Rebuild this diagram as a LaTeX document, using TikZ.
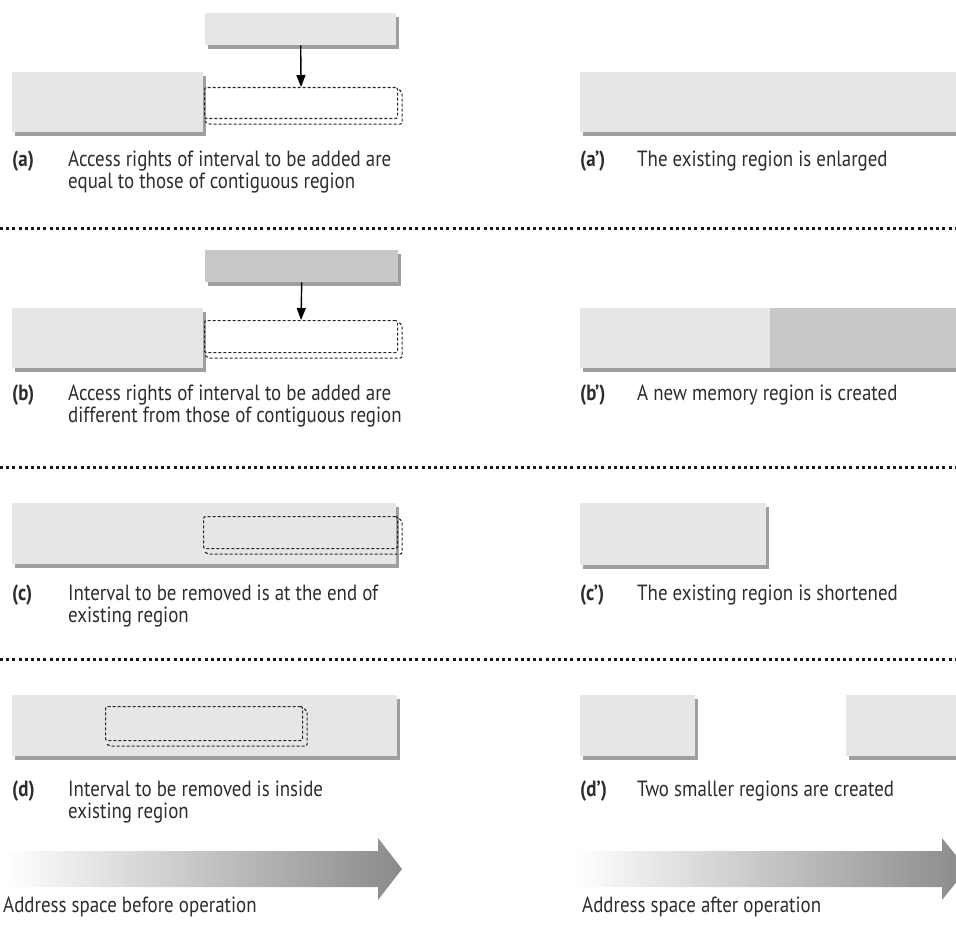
\documentclass[tikz,border=0pt]{standalone}
\usepackage{fontspec}
\setmainfont{PT Sans}[FakeStretch=0.86]
\usepackage{tikz}
\usetikzlibrary{arrows.meta}

\definecolor{regfill}{RGB}{229,230,231}
\definecolor{regdark}{RGB}{199,200,202}
\definecolor{shadowgray}{RGB}{158,159,161}
\definecolor{txtgray}{RGB}{45,45,45}
\definecolor{arrowgray}{RGB}{138,138,138}

\tikzset{
  region/.style={fill=regfill, draw=none, inner sep=0pt, anchor=north west},
  gap/.style={draw=black!85, densely dashed, line width=1.1pt, rounded corners=2pt, inner sep=0pt, anchor=north west},
  gapback/.style={draw=black!85, densely dashed, line width=1.1pt, rounded corners=2pt},
  caption/.style={anchor=base west, inner sep=0pt, text=txtgray, align=left, font=\fontsize{22}{22}\selectfont},
  tag/.style={caption, font=\fontsize{22}{22}\selectfont\bfseries},
  separator/.style={draw=black!90, line width=3pt, dash pattern=on 3pt off 3.2pt},
  drop/.style={-{Triangle[length=12pt,width=9pt]}, line width=1.4pt, black},
}

% region with its shadow: name, x, y, width, height, fill
\newcommand{\regionbox}[6]{%
  \fill[shadowgray] (#2+3,#3+4) rectangle ++(#4,#5);
  \node[region, fill=#6, minimum width=#4pt, minimum height=#5pt] (#1) at (#2,#3) {};
}
% dashed interval: name, x, y, width, height
\newcommand{\gapbox}[5]{%
  \node[gap, minimum width=#4pt, minimum height=#5pt] (#1) at (#2,#3) {};
  \draw[gapback] ([shift={(1,3)}]#1.north east) -- ([shift={(4,4)}]#1.north east) -- ([shift={(4,5)}]#1.south east) -- ([shift={(4,5)}]#1.south west) -- ([shift={(1,2)}]#1.south west);
}

\begin{document}
\begin{tikzpicture}[x=1pt,y=1pt,yscale=-1]
\useasboundingbox (0,0) rectangle (956,936);
\clip (0,0) rectangle (956,936);

%Row (a)
\regionbox{newa}{205}{13}{191}{32}{regfill}
\regionbox{olda}{12}{72}{191}{60}{regfill}
\gapbox{gapa}{204}{87}{193}{31}
\draw[drop] (newa.south) -- (gapa.north);
\regionbox{enla}{580}{72}{390}{60}{regfill}
% Text Node
\node[tag] (taga) at (12,167) {(a)};
\node[caption] (capa) at (68,189) {Access rights of interval to be added are\\equal to those of contiguous region};
\node[tag] (tagaa) at (580,167) {(a')};
\node[caption] (capaa) at (637,167) {The existing region is enlarged};

\draw[separator] (0,229) -- (956,229);

%Row (b)
\regionbox{newb}{205}{250}{193}{32}{regdark}
\regionbox{oldb}{12}{308}{191}{60}{regfill}
\gapbox{gapb}{204}{320}{193}{32}
\draw[drop] (newb.south) -- (gapb.north);
\regionbox{keepb}{580}{308}{190}{60}{regfill}
\regionbox{addb}{770}{308}{200}{60}{regdark}
% Text Node
\node[tag] (tagb) at (12,400) {(b)};
\node[caption] (capb) at (68,422) {Access rights of interval to be added are\\different from those of contiguous region};
\node[tag] (tagbb) at (580,400) {(b')};
\node[caption] (capbb) at (637,400) {A new memory region is created};

\draw[separator] (0,467) -- (956,467);

%Row (c)
\regionbox{oldc}{12}{503}{384}{61}{regfill}
\gapbox{gapc}{203}{516}{194}{32}
\regionbox{shortc}{580}{503}{186}{62}{regfill}
% Text Node
\node[tag] (tagc) at (12,600) {(c)};
\node[caption] (capc) at (68,622) {Interval to be removed is at the end of\\existing region};
\node[tag] (tagcc) at (580,600) {(c')};
\node[caption] (capcc) at (637,600) {The existing region is shortened};

\draw[separator] (0,659) -- (956,659);

%Row (d)
\regionbox{oldd}{12}{695}{385}{61}{regfill}
\gapbox{gapd}{105}{706}{197}{34}
\regionbox{lowd}{580}{695}{115}{61}{regfill}
\regionbox{highd}{846}{695}{120}{61}{regfill}
% Text Node
\node[tag] (tagd) at (12,796) {(d)};
\node[caption] (capd) at (68,818) {Interval to be removed is inside\\existing region};
\node[tag] (tagdd) at (580,796) {(d')};
\node[caption] (capdd) at (637,796) {Two smaller regions are created};

%Address arrows
\shade[left color=white, right color=arrowgray] (5,851) -- (378,851) -- (378,838) -- (402,869) -- (378,900) -- (378,887) -- (5,887) -- cycle;
\shade[left color=white, right color=arrowgray] (575,851) -- (942,851) -- (942,838) -- (967,869) -- (942,900) -- (942,887) -- (575,887) -- cycle;
% Text Node
\node[caption] (before) at (3,912) {Address space before operation};
\node[caption] (after) at (582,912) {Address space after operation};

\end{tikzpicture}
\end{document}
